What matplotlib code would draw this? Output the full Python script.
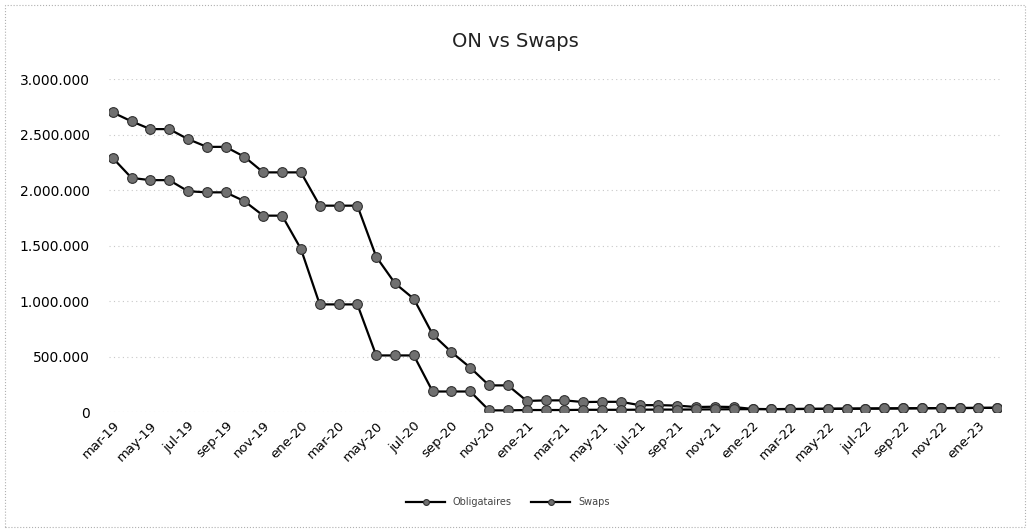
import numpy as np
import matplotlib.pyplot as plt
from matplotlib.patches import Rectangle
from matplotlib.ticker import FuncFormatter

#----------Data-----------
meses = ['ene', 'feb', 'mar', 'abr', 'may', 'jun', 'jul', 'ago', 'sep', 'oct', 'nov', 'dic']
fechas = []
for k in range(48):  # mar-19 .. feb-23
    m = (2 + k) % 12
    a = 19 + (2 + k) // 12
    fechas.append(meses[m] + '-' + str(a))

obligataires = [2700000, 2620000, 2550000, 2550000, 2460000, 2390000, 2390000, 2300000,
                2160000, 2160000, 2160000, 1860000, 1860000, 1860000, 1400000, 1160000,
                1020000, 700000, 540000, 400000, 240000, 240000, 100000, 105000,
                105000, 90000, 92000, 92000, 62000, 62000, 58000, 45000,
                48000, 45000, 28000, 26000, 27000, 28000, 29000, 30000,
                31000, 32000, 33000, 34000, 35000, 36000, 37000, 38000]

swaps = [2290000, 2110000, 2090000, 2090000, 1990000, 1980000, 1980000, 1900000,
         1770000, 1770000, 1470000, 970000, 970000, 970000, 510000, 510000,
         510000, 185000, 185000, 185000, 15000, 15000, 18000, 18000,
         18000, 20000, 20000, 20000, 21000, 22000, 22000, 23000,
         24000, 25000, 26000, 26000, 27000, 28000, 29000, 30000,
         31000, 32000, 33000, 34000, 35000, 36000, 37000, 38000]

#----------Plot-----------
fig = plt.figure(figsize=(10.3, 5.3), dpi=100)
ax = fig.add_axes([0.1058, 0.2226, 0.866, 0.628])

x = np.arange(len(fechas))
estilo = dict(color='black', lw=1.6, marker='o', markersize=7,
              markerfacecolor='#707070', markeredgecolor='#303030', markeredgewidth=0.8)
ax.plot(x, obligataires, label='Obligataires', **estilo)
ax.plot(x, swaps, label='Swaps', **estilo)

ax.set_xlim(-0.2, 47.2)
ax.set_ylim(0, 3000000)
ax.set_yticks(np.arange(0, 3000001, 500000))
ax.yaxis.set_major_formatter(FuncFormatter(lambda v, p: '{:,.0f}'.format(v).replace(',', '.')))
ax.set_xticks(x[::2])
ax.set_xticklabels(fechas[::2], rotation=45, ha='right', rotation_mode='anchor', fontsize=9.5)
ax.tick_params(axis='y', labelsize=10, length=0, pad=14)
ax.tick_params(axis='x', length=0, pad=5)
ax.grid(axis='y', color='#c8c8c8', linestyle=(0, (1, 3)), lw=0.8)
for s in ax.spines.values():
    s.set_visible(False)
ax.set_axisbelow(True)

fig.text(0.5, 0.922, 'ON vs Swaps', ha='center', va='center', fontsize=14, color='#222222')
fig.legend(loc='center', bbox_to_anchor=(0.493, 0.052), ncol=2, frameon=False,
           fontsize=7, markerscale=0.6, handlelength=4, columnspacing=2, labelcolor='#444444')

# marco punteado del grafico
fig.patches.append(Rectangle((0.005, 0.006), 0.99, 0.985, transform=fig.transFigure,
                             fill=False, edgecolor='#b0b0b0', linestyle=':', lw=0.8))

fig.savefig('out.png', dpi=100)
